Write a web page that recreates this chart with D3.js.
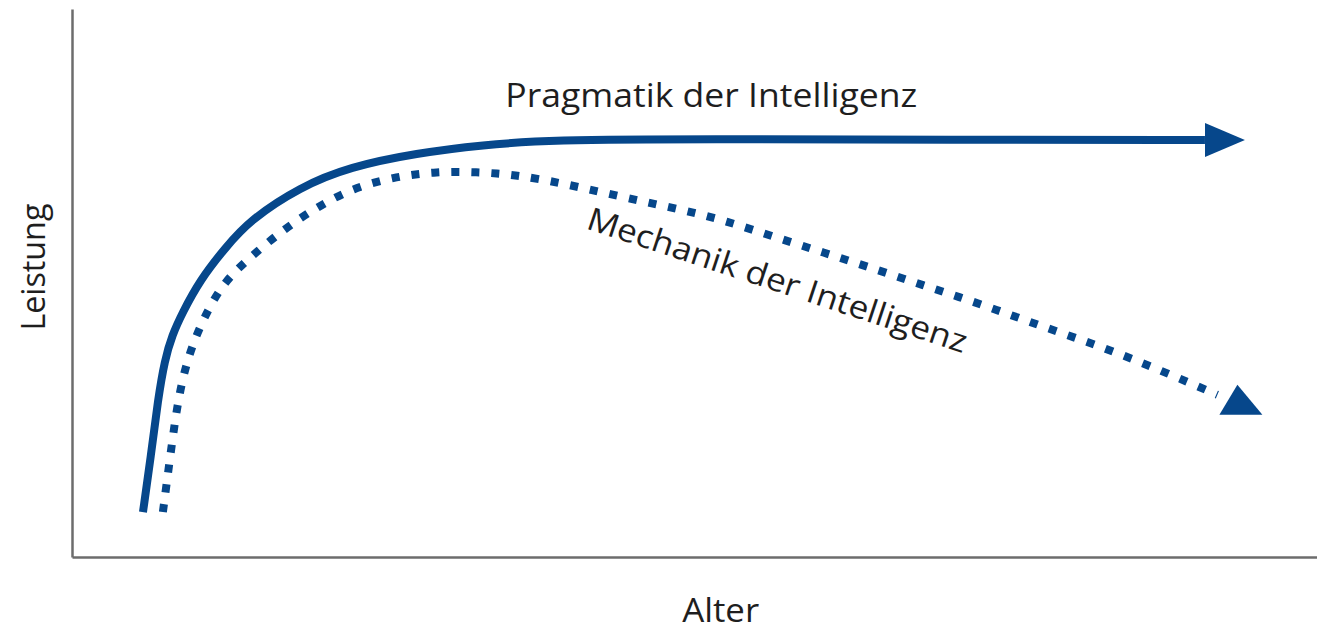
<!DOCTYPE html>
<html>
<head>
<meta charset="utf-8">
<script src="https://cdn.jsdelivr.net/npm/d3@7"></script>
<style>
  html, body { margin: 0; padding: 0; background: #fff; }
  text { font-family: "Open Sans", "Noto Sans", sans-serif; fill: #1e1e1e; }
</style>
</head>
<body>
<svg id="chart" width="1317" height="632"></svg>
<script>
// Leistung ueber das Alter (schematisch, Werte 0-100)
var pragmatikAlter = [5.7, 6.35, 6.9, 7.45, 8.05, 8.85, 10.3, 12.3, 14.3, 18.3, 22.3, 27.7, 33.0, 38.4, 50.4, 70.5, 91.0];
var pragmatikLeistung = [8.2, 18.6, 28.7, 36.0, 40.5, 44.5, 50.6, 56.4, 61.5, 67.5, 71.2, 73.7, 75.2, 76.1, 76.3, 76.1, 76.1];

var mechanikAlter = [7.3, 7.85, 8.5, 9.3, 10.5, 12.1, 14.3, 16.95, 19.7, 22.55, 25.8, 29.0, 32.5, 35.75, 39.2, 44.2, 49.1, 52.3, 57.1, 63.5, 68.35, 73.2, 78.0, 82.8, 87.4, 92.0];
var mechanikLeistung = [8.2, 17.7, 28.7, 36.5, 43.3, 50.0, 54.7, 59.7, 63.9, 67.3, 69.3, 70.3, 70.3, 69.7, 68.3, 65.7, 63.3, 61.5, 57.9, 53.3, 49.6, 46.0, 42.0, 38.3, 34.1, 29.6];

var labels = ["Pragmatik der Intelligenz", "Mechanik der Intelligenz"];
var xTitle = "Alter";
var yTitle = "Leistung";

var width = 1317, height = 632;
var margin = {top: 9, right: 0, bottom: 75, left: 72};
var blue = "#06478b";

var svg = d3.select("#chart");

var x = d3.scaleLinear().domain([0, 100]).range([margin.left, width - margin.right]);
var y = d3.scaleLinear().domain([0, 100]).range([height - margin.bottom, margin.top]);

// arrow heads
var defs = svg.append("defs");
defs.append("marker")
	.attr("id", "head-solid")
	.attr("markerUnits", "userSpaceOnUse")
	.attr("orient", "auto")
	.attr("markerWidth", 50).attr("markerHeight", 40)
	.attr("refX", 0).attr("refY", 0)
	.attr("viewBox", "0 -20 50 40")
	.append("path")
	.attr("d", "M0,-17L40,0L0,17Z")
	.attr("fill", blue);

defs.append("marker")
	.attr("id", "head-dotted")
	.attr("markerUnits", "userSpaceOnUse")
	.attr("orient", "0")
	.attr("markerWidth", 60).attr("markerHeight", 60)
	.attr("refX", 0).attr("refY", 0)
	.attr("viewBox", "-5 -30 60 60")
	.append("path")
	.attr("d", "M20,-10L45,20L2,20Z")
	.attr("fill", blue);

// axes (no ticks, only the lines)
svg.append("g")
	.attr("transform", "translate(0," + y(0) + ")")
	.call(d3.axisBottom(x).ticks(0).tickSize(0))
	.call(function(g) { g.select(".domain").attr("stroke", "#6c6c6c").attr("stroke-width", 2.5); });

svg.append("g")
	.attr("transform", "translate(" + x(0) + ",0)")
	.call(d3.axisLeft(y).ticks(0).tickSize(0))
	.call(function(g) { g.select(".domain").attr("stroke", "#6c6c6c").attr("stroke-width", 2.5); });

// b-spline keeps the hand drawn curves smooth
var line = d3.line()
	.x(function(d) { return x(d[0]); })
	.y(function(d) { return y(d[1]); })
	.curve(d3.curveBasis);

var pragmatik = d3.zip(pragmatikAlter, pragmatikLeistung);
var mechanik = d3.zip(mechanikAlter, mechanikLeistung);

svg.append("path")
	.datum(mechanik)
	.attr("fill", "none")
	.attr("stroke", blue)
	.attr("stroke-width", 8)
	.attr("stroke-dasharray", "8,12")
	.attr("marker-end", "url(#head-dotted)")
	.attr("d", line);

svg.append("path")
	.datum(pragmatik)
	.attr("fill", "none")
	.attr("stroke", blue)
	.attr("stroke-width", 8)
	.attr("marker-end", "url(#head-solid)")
	.attr("d", line);

// labels (stretched to the widths of the original lettering)
svg.append("text")
	.attr("x", x(34.8)).attr("y", y(82.1))
	.attr("font-size", 32)
	.attr("textLength", 412).attr("lengthAdjust", "spacingAndGlyphs")
	.text(labels[0]);

svg.append("text")
	.attr("transform", "translate(" + x(41.2) + "," + y(60.0) + ") rotate(18.3)")
	.attr("font-size", 32)
	.attr("textLength", 398).attr("lengthAdjust", "spacingAndGlyphs")
	.text(labels[1]);

svg.append("text")
	.attr("x", x(52.1)).attr("y", 622)
	.attr("text-anchor", "middle")
	.attr("font-size", 32)
	.attr("textLength", 77).attr("lengthAdjust", "spacingAndGlyphs")
	.text(xTitle);

svg.append("text")
	.attr("transform", "translate(45," + y(52.9) + ") rotate(-90)")
	.attr("text-anchor", "middle")
	.attr("font-size", 32)
	.attr("textLength", 127).attr("lengthAdjust", "spacingAndGlyphs")
	.text(yTitle);
</script>
</body>
</html>
